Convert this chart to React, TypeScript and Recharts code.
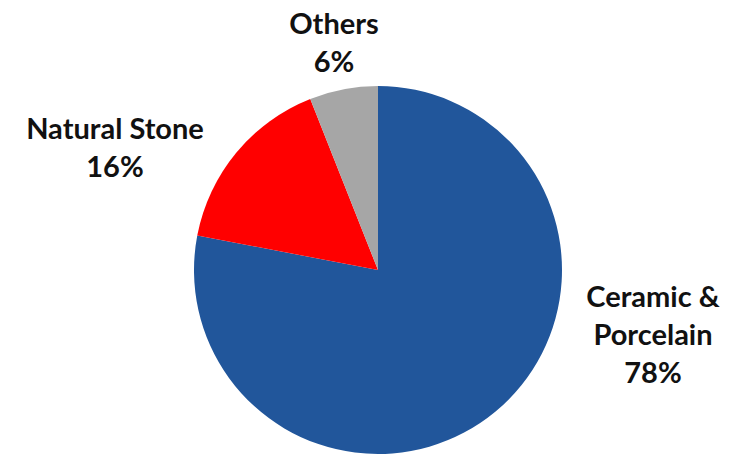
import { PieChart, Pie, Cell } from 'recharts';

const names = ['Ceramic & Porcelain', 'Natural Stone', 'Others'];
const shares = [78, 16, 6];
const labelLines = [['Ceramic &', 'Porcelain', '78%'], ['Natural Stone', '16%'], ['Others', '6%']];

const COLORS = ['#21569b', '#ff0000', '#a6a6a6'];
// label centre offsets from the pie centre (best-fit placement like the original)
const LABEL_OFFSETS = [
  { dx: 275, dy: 63 },
  { dx: -263, dy: -124 },
  { dx: -44, dy: -229 },
];
const LINE_H = 38;

const data = names.map((name, i) => ({ name, value: shares[i] }));

const renderLabel = (props: any) => {
  const { cx, cy, index } = props;
  const lines = labelLines[index];
  const off = LABEL_OFFSETS[index];
  const x = cx + off.dx;
  const y0 = cy + off.dy - ((lines.length - 1) * LINE_H) / 2;
  return (
    <text
      key={`lbl-${index}`}
      x={x}
      y={y0}
      textAnchor="middle"
      dominantBaseline="central"
      fill="#111"
      fontFamily="Lato, 'Open Sans', sans-serif"
      fontWeight={700}
      fontSize={29}
    >
      {lines.map((l, i) => (
        <tspan key={i} x={x} y={y0 + i * LINE_H} dominantBaseline="central">
          {l}
        </tspan>
      ))}
    </text>
  );
};

export default function App() {
  return (
    <div style={{ position: 'absolute', left: 0, top: 0, width: 741, height: 455, background: '#fff' }}>
      <PieChart width={741} height={455} margin={{ top: 0, right: 0, bottom: 0, left: 0 }}>
        <Pie
          data={data}
          dataKey="value"
          cx={378}
          cy={270}
          outerRadius={184}
          startAngle={90}
          endAngle={-270}
          stroke="none"
          label={renderLabel}
          labelLine={false}
          isAnimationActive={false}
        >
          {data.map((entry, i) => (
            <Cell key={entry.name} fill={COLORS[i]} />
          ))}
        </Pie>
      </PieChart>
    </div>
  );
}
